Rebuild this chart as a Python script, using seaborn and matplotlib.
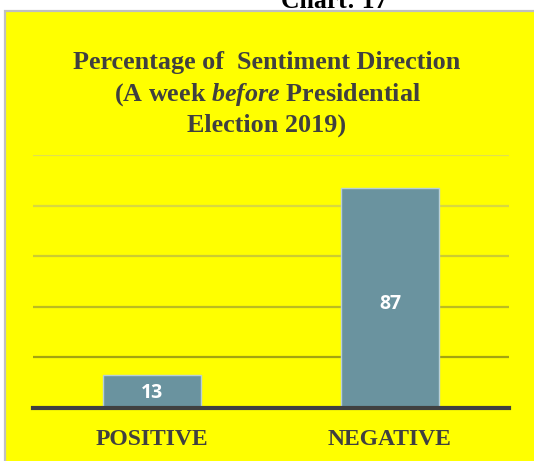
import matplotlib
matplotlib.use("Agg")
import matplotlib.pyplot as plt
import seaborn as sns
import pandas as pd
from matplotlib.patches import Rectangle

categories = ["POSITIVE", "NEGATIVE"]
values = [13, 87]
y_ticks = [0, 20, 40, 60, 80, 100]

sns.set_theme(style="white")
plt.rcParams['font.family'] = ['Liberation Serif', 'DejaVu Sans']
plt.rcParams['mathtext.fontset'] = 'custom'
plt.rcParams['mathtext.it'] = 'Liberation Serif:italic:bold'
plt.rcParams['mathtext.rm'] = 'Liberation Serif:bold'

W, H = 534, 461
fig = plt.figure(figsize=(W / 100, H / 100), dpi=100)
fig.patch.set_facecolor("white")

# yellow panel with grey border
panel = Rectangle((5.5 / W, -0.01), 1.02, 1 - 10.5 / H + 0.01, transform=fig.transFigure,
                  facecolor="#ffff00", edgecolor="#c0c0c0", linewidth=1.6, zorder=-5)
fig.patches.append(panel)

fig.text(334 / W, 1 - 8 / H, "Chart: 17", ha="center", va="baseline",
         fontsize=18.5, fontweight="bold", color="black", family="Liberation Serif")

ax = fig.add_axes([33 / W, 1 - 408 / H, (509 - 33) / W, (408 - 155) / H])
ax.set_facecolor("none")
ax.set_zorder(2)

df = pd.DataFrame({"cat": categories, "val": values})
sns.barplot(data=df, x="cat", y="val", ax=ax, color="#6a939f", saturation=1,
            width=0.41, edgecolor="#b8cfd6", linewidth=1.0, zorder=3)

ax.set_ylim(0, 100)
ax.set_xlim(-0.5, 1.5)
ax.set_yticks(y_ticks)
ax.yaxis.grid(True, linewidth=1.6, zorder=1)
grid_colors = ["#ffff00", "#a4a410", "#bcbc20", "#cccc30", "#d8d840", "#e0e050"]
for gl, c in zip(ax.yaxis.get_gridlines(), grid_colors):
    gl.set_color(c)
ax.set_axisbelow(True)
ax.tick_params(axis="y", left=False, labelleft=False)
ax.tick_params(axis="x", bottom=False, pad=9)
ax.set_xlabel("")
ax.set_ylabel("")
for s in ["top", "right", "left"]:
    ax.spines[s].set_visible(False)
ax.spines["bottom"].set_color("#404040")
ax.spines["bottom"].set_linewidth(3)
ax.spines["bottom"].set_zorder(5)

for lbl in ax.get_xticklabels():
    lbl.set_fontsize(17)
    lbl.set_fontweight("bold")
    lbl.set_color("#404040")
    lbl.set_family("Liberation Serif")

label_y = [6.0, 41]
for i, (v, ly) in enumerate(zip(values, label_y)):
    ax.text(i, ly, str(v), ha="center", va="center", color="white",
            fontsize=14, fontweight="bold", family="Open Sans", zorder=6)

tfs = 18.8
fig.text(267 / W, 1 - 62 / H,
         "Percentage of  Sentiment Direction", ha="center", va="center",
         fontsize=tfs, fontweight="bold", color="#404040")
fig.text(267 / W, 1 - 95 / H, "(A week $\\it{before}$ Presidential", ha="center",
         va="center", fontsize=tfs, fontweight="bold", color="#404040")
fig.text(267 / W, 1 - 125 / H, "Election 2019)", ha="center", va="center",
         fontsize=tfs, fontweight="bold", color="#404040")

fig.savefig("out.png", dpi=100, facecolor=fig.get_facecolor())
